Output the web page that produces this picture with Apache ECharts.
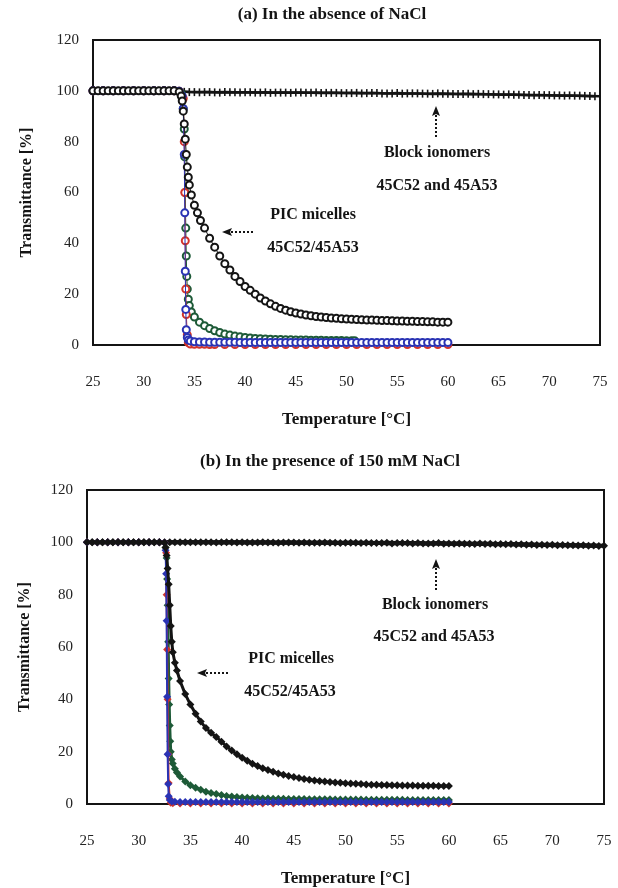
<!DOCTYPE html>
<html>
<head>
<meta charset="utf-8">
<script src="https://cdn.jsdelivr.net/npm/echarts@6/dist/echarts.min.js"></script>
<style>
  html, body { margin: 0; padding: 0; background: #fff; }
  #chart { width: 618px; height: 888px; }
</style>
</head>
<body>
<div id="chart"></div>
<script>
const xTicks = [25, 75, 5];
const yTicks = [0, 120, 20];

const colors = { black: "#141414", green: "#1d5a37", red: "#d2342b", blue: "#2a33b4" };

// (a) no NaCl: block ionomers, two overlapping series
const blockCa = [[25,100],[26,100],[27,100],[28,100],[29,100],[30,100],[31,100],[32,100],[33,100],[34,99.6],[35,99.5],[36,99.5],[37,99.4],[38,99.5],[39,99.4],[40,99.4],[41,99.3],[42,99.4],[43,99.3],[44,99.3],[45,99.3],[46,99.2],[47,99.3],[48,99.2],[49,99.2],[50,99.1],[51,99.2],[52,99.1],[53,99.1],[54,99],[55,99.1],[56,99],[57,99],[58,98.9],[59,99],[60,98.9],[61,98.8],[62,98.9],[63,98.8],[64,98.7],[65,98.6],[66,98.6],[67,98.5],[68,98.4],[69,98.4],[70,98.3],[71,98.2],[72,98.2],[73,98.1],[74,98],[75,97.9]];
const blockAa = [[25.5,100],[26.5,100],[27.5,100],[28.5,100],[29.5,100],[30.5,100],[31.5,100],[32.5,100],[33.5,99.8],[34.5,99.5],[35.5,99.4],[36.5,99.5],[37.5,99.3],[38.5,99.4],[39.5,99.3],[40.5,99.4],[41.5,99.3],[42.5,99.2],[43.5,99.3],[44.5,99.2],[45.5,99.3],[46.5,99.2],[47.5,99.1],[48.5,99.2],[49.5,99.1],[50.5,99.1],[51.5,99],[52.5,99.1],[53.5,99],[54.5,99],[55.5,98.9],[56.5,99],[57.5,98.9],[58.5,98.8],[59.5,98.9],[60.5,98.8],[61.5,98.8],[62.5,98.7],[63.5,98.7],[64.5,98.6],[65.5,98.5],[66.5,98.5],[67.5,98.4],[68.5,98.3],[69.5,98.3],[70.5,98.2],[71.5,98.1],[72.5,98.1],[73.5,98],[74.5,97.9]];

// (a) PIC micelles
const picBlackA = [[25,100],[25.5,100],[26,100],[26.5,100],[27,100],[27.5,100],[28,100],[28.5,100],[29,100],[29.5,100],[30,100],[30.5,100],[31,100],[31.5,100],[32,100],[32.5,100],[33,100],[33.5,99.6],[33.7,98],[33.8,96],[33.9,92],[34,87],[34.1,81],[34.2,75],[34.3,70],[34.4,66],[34.5,63],[34.7,59],[35,55],[35.3,52],[35.6,49],[36,46],[36.5,42],[37,38.5],[37.5,35],[38,32],[38.5,29.5],[39,27],[39.5,25],[40,23],[40.5,21.5],[41,20],[41.5,18.5],[42,17.3],[42.5,16.2],[43,15.2],[43.5,14.4],[44,13.7],[44.5,13.1],[45,12.6],[45.5,12.2],[46,11.8],[46.5,11.5],[47,11.2],[47.5,11],[48,10.8],[48.5,10.6],[49,10.5],[49.5,10.3],[50,10.2],[50.5,10.1],[51,10],[51.5,9.9],[52,9.8],[52.5,9.8],[53,9.7],[53.5,9.6],[54,9.6],[54.5,9.5],[55,9.4],[55.5,9.4],[56,9.3],[56.5,9.3],[57,9.2],[57.5,9.2],[58,9.1],[58.5,9.1],[59,9],[59.5,9],[60,9]];
const picGreenA = [[25,100],[26,100],[27,100],[28,100],[29,100],[30,100],[31,100],[32,100],[33,100],[33.5,99.8],[33.7,99],[33.8,97],[33.9,93],[34,85],[34.05,74],[34.1,60],[34.15,46],[34.2,35],[34.25,27],[34.3,22],[34.4,18],[34.5,15.5],[34.7,13],[35,11],[35.5,9],[36,7.6],[36.5,6.5],[37,5.6],[37.5,4.9],[38,4.3],[38.5,3.9],[39,3.5],[39.5,3.2],[40,3],[40.5,2.8],[41,2.6],[41.5,2.5],[42,2.4],[42.5,2.3],[43,2.2],[43.5,2.2],[44,2.1],[44.5,2.1],[45,2],[45.5,2],[46,2],[46.5,1.9],[47,1.9],[47.5,1.9],[48,1.8],[48.5,1.8],[49,1.8],[49.5,1.8],[50,1.7],[50.5,1.7],[50.8,1.7]];
const picRedA = [[25,100],[26,100],[27,100],[28,100],[29,100],[30,100],[31,100],[32,100],[33,100],[33.5,99.8],[33.9,97],[34,80],[34.05,60],[34.1,41],[34.15,22],[34.2,12],[34.3,4],[34.4,1],[34.6,0.4],[35,0.3],[35.5,0.3],[36,0.3],[36.5,0.2],[37,0.2],[38,0.2],[39,0.2],[40,0.2],[41,0.2],[42,0.2],[43,0.2],[44,0.2],[45,0.2],[46,0.2],[47,0.2],[48,0.2],[49,0.2],[50,0.2],[51,0.2],[52,0.2],[53,0.2],[54,0.2],[55,0.2],[56,0.2],[57,0.2],[58,0.2],[59,0.2],[60,0.2]];
const picBlueA = [[25,100],[26,100],[27,100],[28,100],[29,100],[30,100],[31,100],[32,100],[33,100],[33.5,99.8],[33.8,98],[33.9,93],[34,75],[34.05,52],[34.1,29],[34.15,14],[34.2,6],[34.3,3],[34.4,2],[34.6,1.6],[35,1.3],[35.5,1.2],[36,1.2],[36.5,1.1],[37,1.1],[37.5,1.1],[38,1.1],[38.5,1.1],[39,1.1],[39.5,1],[40,1],[40.5,1],[41,1],[41.5,1],[42,1],[42.5,1],[43,1],[43.5,1],[44,1],[44.5,1],[45,1],[45.5,1],[46,1],[46.5,1],[47,1],[47.5,1],[48,1],[48.5,1],[49,1],[49.5,1],[50,1],[50.5,1],[51,1],[51.5,1],[52,1],[52.5,1],[53,1],[53.5,1],[54,1],[54.5,1],[55,1],[55.5,1],[56,1],[56.5,1],[57,1],[57.5,1],[58,1],[58.5,1],[59,1],[59.5,1],[60,1]];

// (b) 150 mM NaCl: block ionomers
const blockCb = [[25,100],[26,100],[27,100],[28,100],[29,100],[30,100],[31,100],[32,100],[33,100],[34,100],[35,100],[36,100],[37,100],[38,100],[39,100],[40,100],[41,99.9],[42,100],[43,99.9],[44,99.9],[45,99.9],[46,99.9],[47,99.8],[48,99.9],[49,99.8],[50,99.8],[51,99.8],[52,99.8],[53,99.7],[54,99.8],[55,99.7],[56,99.7],[57,99.7],[58,99.6],[59,99.7],[60,99.6],[61,99.6],[62,99.5],[63,99.6],[64,99.5],[65,99.4],[66,99.4],[67,99.3],[68,99.2],[69,99.1],[70,99.1],[71,99],[72,98.9],[73,98.9],[74,98.8],[75,98.7]];
const blockAb = [[25.5,100],[26.5,100],[27.5,100],[28.5,100],[29.5,100],[30.5,100],[31.5,100],[32.5,100],[33.5,100],[34.5,100],[35.5,100],[36.5,100],[37.5,99.9],[38.5,100],[39.5,99.9],[40.5,99.9],[41.5,99.9],[42.5,99.9],[43.5,99.8],[44.5,99.9],[45.5,99.8],[46.5,99.8],[47.5,99.8],[48.5,99.8],[49.5,99.7],[50.5,99.8],[51.5,99.7],[52.5,99.7],[53.5,99.7],[54.5,99.6],[55.5,99.7],[56.5,99.6],[57.5,99.6],[58.5,99.6],[59.5,99.5],[60.5,99.5],[61.5,99.5],[62.5,99.4],[63.5,99.4],[64.5,99.3],[65.5,99.3],[66.5,99.2],[67.5,99.1],[68.5,99],[69.5,99],[70.5,98.9],[71.5,98.9],[72.5,98.8],[73.5,98.7],[74.5,98.6]];

// (b) PIC micelles
const picBlackB = [[25,100],[25.5,100],[26,100],[26.5,100],[27,100],[27.5,100],[28,100],[28.5,100],[29,100],[29.5,100],[30,100],[30.5,100],[31,100],[31.5,100],[32,100],[32.5,99.8],[32.6,98],[32.7,95],[32.8,90],[32.9,84],[33,76],[33.1,68],[33.2,62],[33.3,58],[33.5,54],[33.7,51],[34,47],[34.5,42],[35,38],[35.5,34.5],[36,31.5],[36.5,29],[37,27.2],[37.5,25.6],[38,23.8],[38.5,22],[39,20.4],[39.5,19],[40,17.7],[40.5,16.5],[41,15.4],[41.5,14.5],[42,13.7],[42.5,13],[43,12.3],[43.5,11.7],[44,11.2],[44.5,10.7],[45,10.3],[45.5,9.9],[46,9.6],[46.5,9.3],[47,9],[47.5,8.8],[48,8.6],[48.5,8.4],[49,8.2],[49.5,8.1],[50,7.9],[50.5,7.8],[51,7.7],[51.5,7.6],[52,7.5],[52.5,7.4],[53,7.4],[53.5,7.3],[54,7.3],[54.5,7.2],[55,7.2],[55.5,7.1],[56,7.1],[56.5,7.1],[57,7],[57.5,7],[58,7],[58.5,7],[59,6.9],[59.5,6.9],[60,6.9]];
const picGreenB = [[25,100],[26,100],[27,100],[28,100],[29,100],[30,100],[31,100],[32,100],[32.5,99.8],[32.6,98],[32.7,94],[32.75,86],[32.8,76],[32.85,62],[32.9,48],[32.95,38],[33,30],[33.05,24],[33.1,20],[33.2,17],[33.3,15.5],[33.5,13.5],[33.7,12],[34,10.5],[34.5,8.6],[35,7.2],[35.5,6.2],[36,5.4],[36.5,4.7],[37,4.2],[37.5,3.8],[38,3.4],[38.5,3.1],[39,2.9],[39.5,2.7],[40,2.5],[40.5,2.4],[41,2.3],[41.5,2.2],[42,2.1],[42.5,2.1],[43,2],[43.5,2],[44,2],[44.5,1.9],[45,1.9],[45.5,1.9],[46,1.9],[46.5,1.8],[47,1.8],[47.5,1.8],[48,1.8],[48.5,1.8],[49,1.7],[49.5,1.7],[50,1.7],[50.5,1.7],[51,1.7],[51.5,1.7],[52,1.6],[52.5,1.6],[53,1.6],[53.5,1.6],[54,1.6],[54.5,1.6],[55,1.6],[55.5,1.6],[56,1.5],[56.5,1.5],[57,1.5],[57.5,1.5],[58,1.5],[58.5,1.5],[59,1.5],[59.5,1.5],[60,1.5]];
const picRedB = [[25,100],[26,100],[27,100],[28,100],[29,100],[30,100],[31,100],[32,100],[32.5,99.8],[32.65,96],[32.7,80],[32.75,59],[32.8,40],[32.85,19],[32.9,8],[33,2],[33.1,0.5],[33.3,0.3],[34,0.2],[35,0.2],[36,0.2],[37,0.2],[38,0.2],[39,0.2],[40,0.2],[41,0.2],[42,0.2],[43,0.2],[44,0.2],[45,0.2],[46,0.2],[47,0.2],[48,0.2],[49,0.2],[50,0.2],[51,0.2],[52,0.2],[53,0.2],[54,0.2],[55,0.2],[56,0.2],[57,0.2],[58,0.2],[59,0.2],[60,0.2]];
const picBlueB = [[25,100],[26,100],[27,100],[28,100],[29,100],[30,100],[31,100],[32,100],[32.5,99.8],[32.6,97],[32.65,88],[32.7,70],[32.75,41],[32.8,19],[32.85,7.6],[32.9,3],[33,1.5],[33.2,1],[33.5,0.9],[34,0.8],[34.5,0.8],[35,0.8],[35.5,0.8],[36,0.8],[36.5,0.8],[37,0.8],[37.5,0.8],[38,0.8],[38.5,0.8],[39,0.8],[39.5,0.8],[40,0.8],[40.5,0.8],[41,0.8],[41.5,0.8],[42,0.8],[42.5,0.8],[43,0.8],[43.5,0.8],[44,0.8],[44.5,0.8],[45,0.8],[45.5,0.8],[46,0.8],[46.5,0.8],[47,0.8],[47.5,0.8],[48,0.8],[48.5,0.8],[49,0.8],[49.5,0.8],[50,0.8],[50.5,0.8],[51,0.8],[51.5,0.8],[52,0.8],[52.5,0.8],[53,0.8],[53.5,0.8],[54,0.8],[54.5,0.8],[55,0.8],[55.5,0.8],[56,0.8],[56.5,0.8],[57,0.8],[57.5,0.8],[58,0.8],[58.5,0.8],[59,0.8],[59.5,0.8],[60,0.8]];

const serif = '"Liberation Serif", "DejaVu Serif", serif';
const ink = "#141414";

function xAxisFor(gridIndex, gap, margin) {
  return {
    type: "value", gridIndex, min: xTicks[0], max: xTicks[1], interval: xTicks[2],
    name: "Temperature [°C]", nameLocation: "middle", nameGap: gap,
    nameTextStyle: { fontFamily: serif, fontWeight: "bold", fontSize: 17, color: ink },
    axisLine: { lineStyle: { color: ink, width: 2 } },
    axisTick: { show: false },
    splitLine: { show: false },
    axisLabel: { fontFamily: serif, fontSize: 15, color: "#222", margin },
  };
}

function yAxisFor(gridIndex, gap) {
  return {
    type: "value", gridIndex, min: yTicks[0], max: yTicks[1], interval: yTicks[2],
    name: "Transmittance [%]", nameLocation: "middle", nameGap: gap,
    nameTextStyle: { fontFamily: serif, fontWeight: "bold", fontSize: 16, color: ink },
    axisLine: { lineStyle: { color: ink, width: 2 } },
    axisTick: { show: false },
    splitLine: { show: false },
    axisLabel: { fontFamily: serif, fontSize: 15, color: "#222", margin: 14 },
  };
}

function block(data, idx, symbol, size, lineWidth) {
  return {
    type: "line", xAxisIndex: idx, yAxisIndex: idx, data,
    symbol, symbolSize: size, showSymbol: true,
    lineStyle: { color: ink, width: lineWidth },
    itemStyle: { color: ink },
    animation: false, z: 2,
  };
}

function openPic(data, idx, color, z) {
  return {
    type: "line", xAxisIndex: idx, yAxisIndex: idx, data,
    symbol: "emptyCircle", symbolSize: 7, showSymbol: true,
    lineStyle: { color, width: 1 },
    itemStyle: { color, borderWidth: 1.7 },
    animation: false, z,
  };
}

function filledPic(data, idx, color, z, lineWidth) {
  return {
    type: "line", xAxisIndex: idx, yAxisIndex: idx, data,
    symbol: "diamond", symbolSize: 8, showSymbol: true,
    lineStyle: { color, width: lineWidth },
    itemStyle: { color },
    animation: false, z,
  };
}

function label(text, x, y, size) {
  return {
    type: "text", silent: true,
    style: { text, x, y, fill: ink, font: `bold ${size}px ${serif}`, textAlign: "center", textVerticalAlign: "middle", align: "center", verticalAlign: "middle" },
  };
}

function upArrow(x, y1, y2) {
  return [
    { type: "line", silent: true, shape: { x1: x, y1, x2: x, y2: y2 + 6 }, style: { stroke: ink, lineWidth: 2, lineDash: [2, 2] } },
    { type: "polygon", silent: true, shape: { points: [[x, y2], [x - 4, y2 + 10], [x, y2 + 8], [x + 4, y2 + 10]] }, style: { fill: ink } },
  ];
}

function leftArrow(x1, x2, y) {
  return [
    { type: "line", silent: true, shape: { x1, y1: y, x2: x2 + 6, y2: y }, style: { stroke: ink, lineWidth: 2, lineDash: [2, 2] } },
    { type: "polygon", silent: true, shape: { points: [[x2, y], [x2 + 10, y - 4], [x2 + 8, y], [x2 + 10, y + 4]] }, style: { fill: ink } },
  ];
}

const chart = echarts.init(document.getElementById("chart"), null, { renderer: "canvas" });
chart.setOption({
  backgroundColor: "#fff",
  animation: false,
  grid: [
    { left: 93, top: 40, width: 507, height: 305, show: true, borderColor: ink, borderWidth: 2, backgroundColor: "transparent" },
    { left: 87, top: 490, width: 517, height: 315, show: true, borderColor: ink, borderWidth: 2, backgroundColor: "transparent" },
  ],
  xAxis: [xAxisFor(0, 66, 30), xAxisFor(1, 66, 30)],
  yAxis: [yAxisFor(0, 58), yAxisFor(1, 54)],
  series: [
    block(blockCa, 0, "rect", [1.6, 8], 2.5),
    block(blockAa, 0, "rect", [1.6, 8], 2.5),
    openPic(picGreenA, 0, colors.green, 3),
    openPic(picRedA, 0, colors.red, 4),
    openPic(picBlueA, 0, colors.blue, 5),
    openPic(picBlackA, 0, colors.black, 6),
    block(blockCb, 1, "diamond", 8, 4),
    block(blockAb, 1, "diamond", 8, 4),
    filledPic(picGreenB, 1, colors.green, 3, 3),
    filledPic(picRedB, 1, colors.red, 4, 2),
    filledPic(picBlueB, 1, colors.blue, 5, 2),
    filledPic(picBlackB, 1, colors.black, 6, 3),
  ],
  graphic: [
    label("(a) In the absence of NaCl", 332, 15, 17),
    label("(b) In the presence of 150 mM NaCl", 330, 462, 17),
    label("Block ionomers", 437, 153, 16),
    label("45C52 and 45A53", 437, 186, 16),
    label("PIC micelles", 313, 215, 16),
    label("45C52/45A53", 313, 248, 16),
    ...upArrow(436, 137, 106),
    ...leftArrow(253, 222, 232),
    label("Block ionomers", 435, 605, 16),
    label("45C52 and 45A53", 434, 637, 16),
    label("PIC micelles", 291, 659, 16),
    label("45C52/45A53", 290, 692, 16),
    ...upArrow(436, 590, 559),
    ...leftArrow(228, 197, 673),
  ],
});
</script>
</body>
</html>
